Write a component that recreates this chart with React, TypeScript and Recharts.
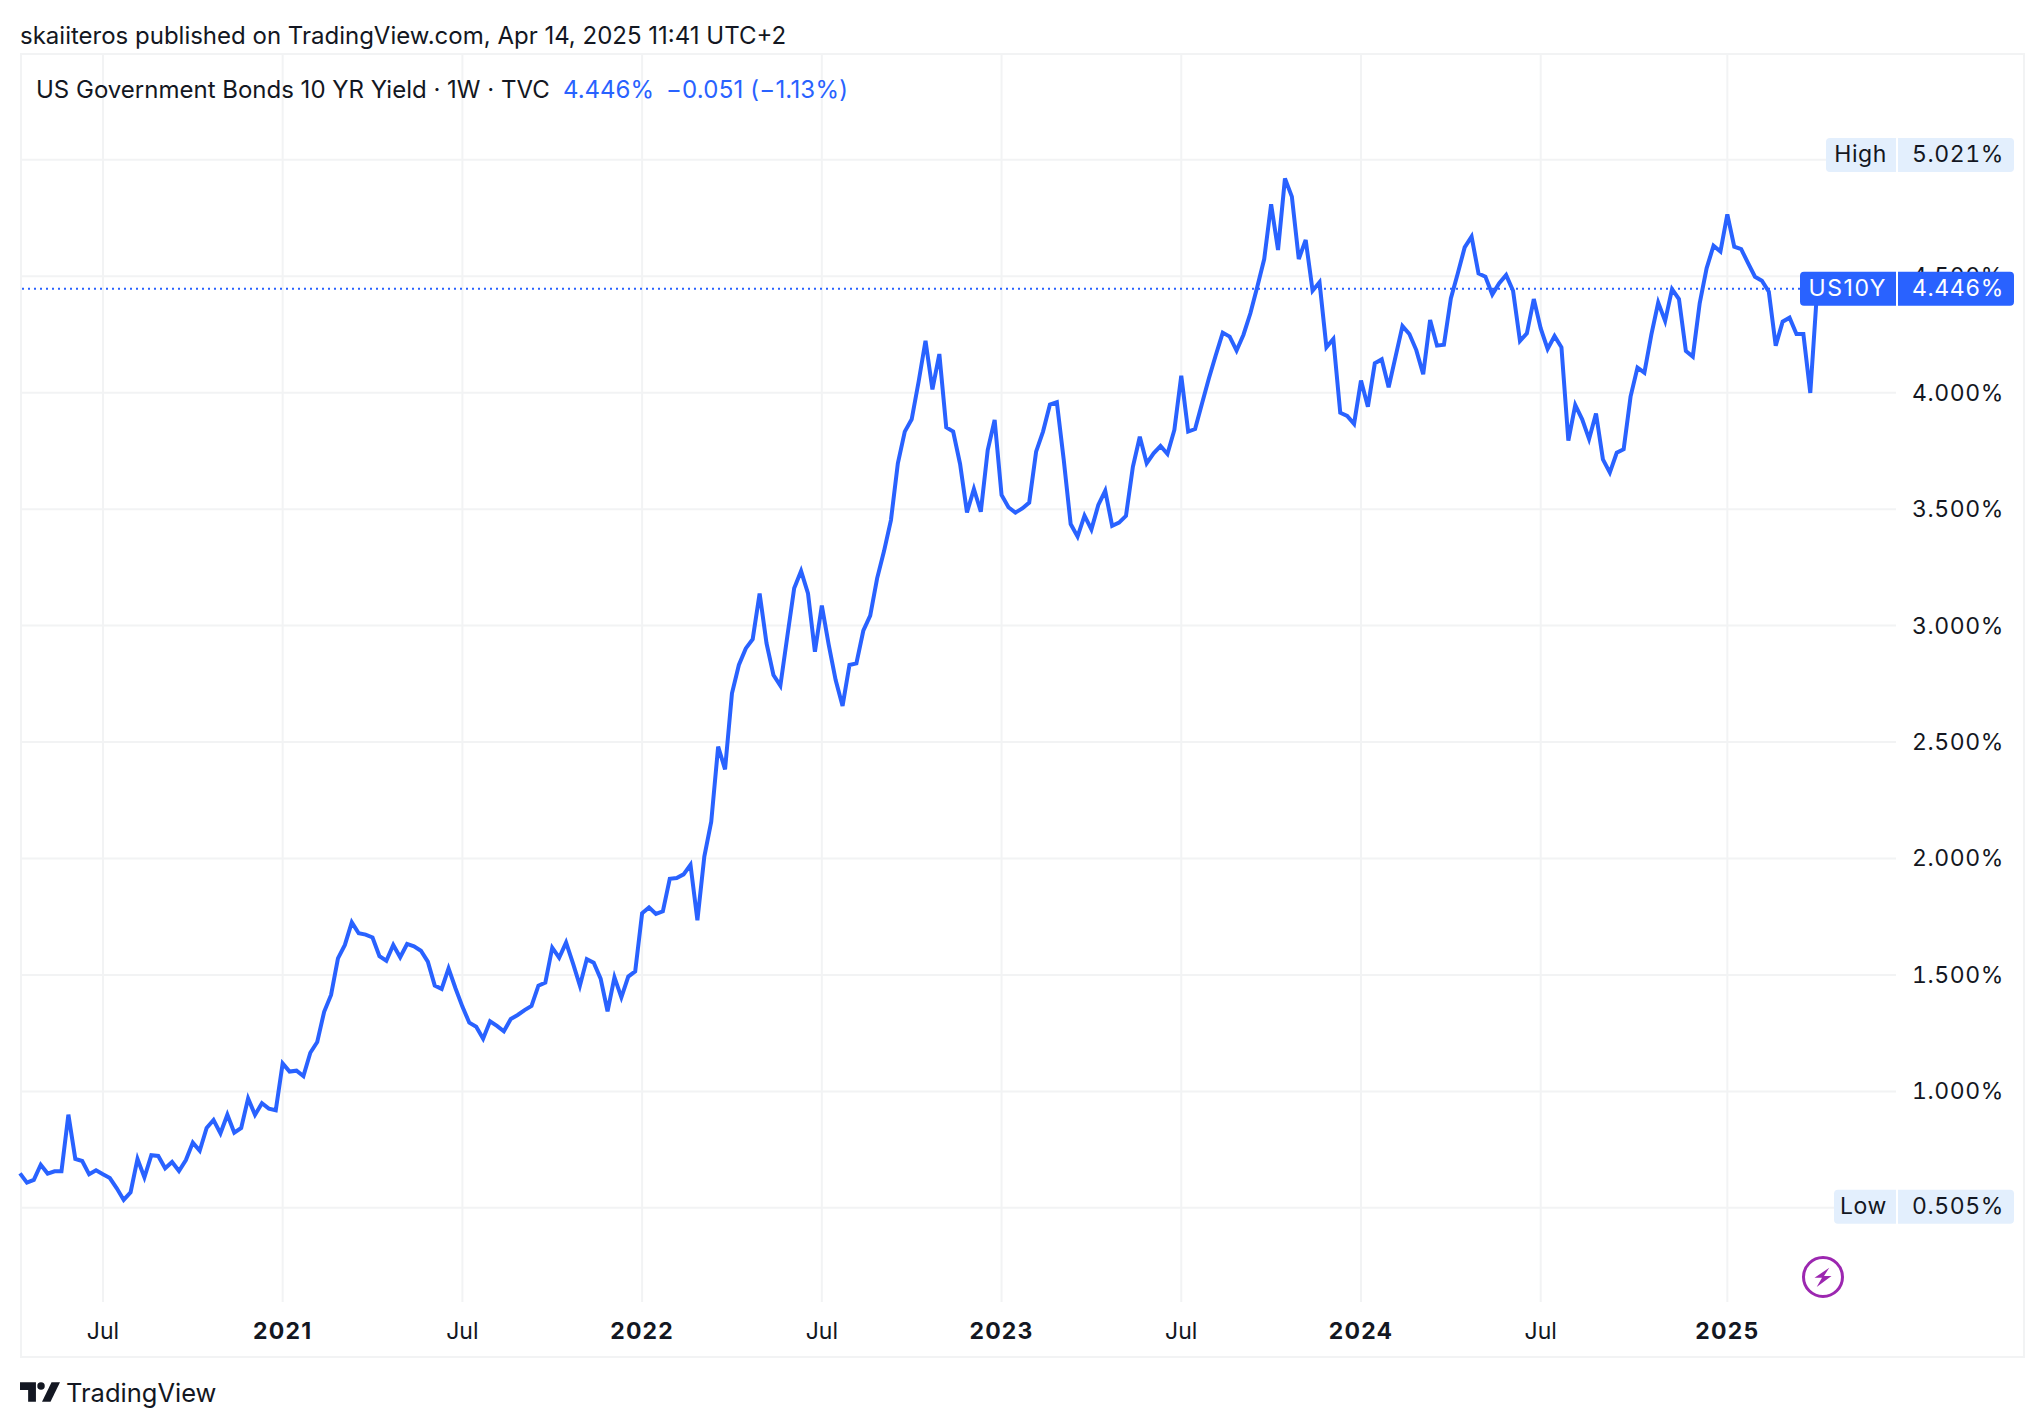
import { CartesianGrid, Line, LineChart, ReferenceDot, ReferenceLine, XAxis, YAxis } from "recharts";

const FONT = "Inter, 'Noto Sans', sans-serif";
const BLUE = "#2962FF";
const INK = "#131722";
const GRID = "#F2F3F4";

// weekly closes
const yields = [
  0.648, 0.608, 0.62, 0.685, 0.647, 0.657, 0.657, 0.9, 0.71, 0.701, 0.644, 0.661, 0.644, 0.628, 0.584, 0.534,
  0.567, 0.71, 0.631, 0.726, 0.723, 0.67, 0.697, 0.658, 0.705, 0.78, 0.745, 0.843, 0.877, 0.82, 0.9, 0.823,
  0.843, 0.97, 0.899, 0.949, 0.926, 0.919, 1.12, 1.085, 1.089, 1.066, 1.166, 1.212, 1.342, 1.414, 1.571, 1.629,
  1.726, 1.679, 1.673, 1.661, 1.581, 1.561, 1.629, 1.576, 1.633, 1.623, 1.604, 1.557, 1.454, 1.44, 1.528, 1.443,
  1.364, 1.295, 1.278, 1.226, 1.301, 1.281, 1.258, 1.311, 1.328, 1.349, 1.367, 1.454, 1.467, 1.617, 1.574, 1.639,
  1.55, 1.454, 1.568, 1.553, 1.484, 1.344, 1.49, 1.404, 1.493, 1.515, 1.765, 1.79, 1.762, 1.773, 1.913, 1.916,
  1.932, 1.973, 1.735, 2.008, 2.158, 2.48, 2.383, 2.709, 2.831, 2.902, 2.942, 3.138, 2.924, 2.788, 2.742, 2.952,
  3.16, 3.234, 3.138, 2.888, 3.086, 2.917, 2.766, 2.655, 2.831, 2.838, 2.978, 3.043, 3.203, 3.32, 3.453, 3.697,
  3.833, 3.886, 4.047, 4.223, 4.014, 4.166, 3.851, 3.833, 3.694, 3.486, 3.587, 3.489, 3.754, 3.883, 3.561, 3.508,
  3.485, 3.503, 3.528, 3.747, 3.833, 3.949, 3.959, 3.711, 3.436, 3.382, 3.472, 3.413, 3.518, 3.579, 3.428, 3.442,
  3.471, 3.682, 3.811, 3.697, 3.74, 3.771, 3.737, 3.84, 4.073, 3.833, 3.844, 3.954, 4.062, 4.162, 4.258, 4.241,
  4.181, 4.249, 4.341, 4.455, 4.574, 4.809, 4.613, 4.92, 4.842, 4.574, 4.656, 4.438, 4.474, 4.195, 4.231, 3.914,
  3.9, 3.866, 4.052, 3.94, 4.126, 4.143, 4.023, 4.155, 4.286, 4.252, 4.183, 4.079, 4.312, 4.202, 4.206, 4.405,
  4.512, 4.624, 4.67, 4.512, 4.498, 4.422, 4.47, 4.505, 4.438, 4.222, 4.255, 4.402, 4.276, 4.188, 4.243, 4.195,
  3.794, 3.947, 3.886, 3.801, 3.911, 3.714, 3.657, 3.742, 3.757, 3.983, 4.108, 4.086, 4.248, 4.387, 4.308, 4.445,
  4.402, 4.179, 4.155, 4.384, 4.534, 4.631, 4.606, 4.766, 4.627, 4.617, 4.556, 4.498, 4.481, 4.434, 4.202, 4.305,
  4.322, 4.252, 4.252, 3.999, 4.446,
];

const xTickWeeks = [12, 38, 64, 90, 116, 142, 168, 194, 220, 247];
const xTickLabels = ["Jul", "2021", "Jul", "2022", "Jul", "2023", "Jul", "2024", "Jul", "2025"];
const priceTicks = [0.5, 1, 1.5, 2, 2.5, 3, 3.5, 4, 4.5, 5];
// these two sit fully under the High and Low tags
const coveredTicks = [0.5, 5];

const lastPrice = 4.446;
const highPrice = 5.021;
const lowPrice = 0.505;

const data = yields.map((v, i) => ({ week: i, v }));
const xEnd = 271.4;

function TimeTick({ x, payload }: any) {
  const label = xTickLabels[xTickWeeks.indexOf(payload.value)];
  const isYear = label !== "Jul";
  return (
    <text
      x={x}
      y={1331}
      dominantBaseline="central"
      textAnchor="middle"
      fontFamily={FONT}
      fontSize={23}
      fontWeight={isYear ? 700 : 400}
      letterSpacing={isYear ? 1.2 : 0}
      fill={INK}
    >
      {label}
    </text>
  );
}

function PriceTick({ y, payload }: any) {
  if (coveredTicks.includes(payload.value)) return <g />;
  return (
    <text
      x={2004}
      y={y}
      dominantBaseline="central"
      textAnchor="end"
      fontFamily={FONT}
      fontSize={23}
      letterSpacing={0.6}
      style={{ fontVariantNumeric: "tabular-nums" }}
      fill={INK}
    >
      {payload.value.toFixed(3)}%
    </text>
  );
}

// two-part price tag on the right edge, cx is the end of the pane
function PriceTag({ cx, cy, name, value, width, bg, fg, nameSpacing = 0.6 }: any) {
  const left = cx - width;
  const r = 4;
  const top = cy - 17;
  const bottom = cy + 17;
  return (
    <g fontFamily={FONT} fontSize={23}>
      <path
        d={`M${cx} ${top}H${left + r}Q${left} ${top} ${left} ${top + r}V${bottom - r}Q${left} ${bottom} ${left + r} ${bottom}H${cx}Z`}
        fill={bg}
      />
      <path
        d={`M${cx + 2} ${top}H${2014 - r}Q2014 ${top} 2014 ${top + r}V${bottom - r}Q2014 ${bottom} ${2014 - r} ${bottom}H${cx + 2}Z`}
        fill={bg}
      />
      <text x={cx - 9} y={cy - 1} dominantBaseline="central" textAnchor="end" letterSpacing={nameSpacing} fill={fg}>
        {name}
      </text>
      <text
        x={2004}
        y={cy - 1}
        dominantBaseline="central"
        textAnchor="end"
        letterSpacing={0.6}
        style={{ fontVariantNumeric: "tabular-nums" }}
        fill={fg}
      >
        {value}
      </text>
    </g>
  );
}

export default function App() {
  return (
    <div style={{ position: "absolute", left: 0, top: 0, width: 2044, height: 1428, background: "#fff", fontFamily: FONT, color: INK }}>
      <div style={{ position: "absolute", left: 20, top: 21, fontSize: 24, lineHeight: "30px", whiteSpace: "nowrap" }}>
        skaiiteros published on TradingView.com, Apr 14, 2025 11:41 UTC+2
      </div>

      <div style={{ position: "absolute", left: 20, top: 53, width: 2001, height: 1301, border: `2px solid ${GRID}` }} />

      <div style={{ position: "absolute", left: 0, top: 0 }}>
        <LineChart width={2044} height={1428} data={data} margin={{ top: 53, right: 20, bottom: 70, left: 20 }}>
          <CartesianGrid stroke={GRID} strokeWidth={2} horizontalValues={priceTicks} verticalValues={xTickWeeks} />
          <XAxis
            dataKey="week"
            type="number"
            domain={[0, xEnd]}
            ticks={xTickWeeks}
            interval={0}
            height={56}
            axisLine={false}
            tickLine={false}
            tick={<TimeTick />}
          />
          <YAxis
            orientation="right"
            domain={[0.0957, 5.4586]}
            ticks={priceTicks}
            interval={0}
            width={128}
            axisLine={false}
            tickLine={false}
            tick={<PriceTick />}
            zIndex={100}
          />
          <ReferenceLine y={lastPrice} stroke={BLUE} strokeWidth={2} strokeDasharray="2 4" />
          <Line
            dataKey="v"
            type="linear"
            stroke={BLUE}
            strokeWidth={4}
            dot={false}
            activeDot={false}
            isAnimationActive={false}
          />
          <ReferenceDot
            x={xEnd}
            y={highPrice}
            ifOverflow="visible"
            zIndex={3000}
            shape={(p: any) => <PriceTag {...p} name="High" value="5.021%" width={70} bg="#E3EFFD" fg={INK} />}
          />
          <ReferenceDot
            x={xEnd}
            y={lastPrice}
            ifOverflow="visible"
            zIndex={3000}
            shape={(p: any) => <PriceTag {...p} name="US10Y" value="4.446%" width={96} bg={BLUE} fg="#fff" nameSpacing={1.6} />}
          />
          <ReferenceDot
            x={xEnd}
            y={lowPrice}
            ifOverflow="visible"
            zIndex={3000}
            shape={(p: any) => <PriceTag {...p} name="Low" value="0.505%" width={62} bg="#E3EFFD" fg={INK} />}
          />
        </LineChart>
      </div>

      <div style={{ position: "absolute", left: 36, top: 75, fontSize: 24, lineHeight: "30px", whiteSpace: "nowrap" }}>
        US Government Bonds 10 YR Yield · 1W · TVC
      </div>
      <div style={{ position: "absolute", left: 563, top: 75, fontSize: 24, lineHeight: "30px", whiteSpace: "nowrap", color: BLUE }}>
        4.446%
      </div>
      <div style={{ position: "absolute", left: 666, top: 75, fontSize: 24, lineHeight: "30px", letterSpacing: 0.2, whiteSpace: "nowrap", color: BLUE }}>
        −0.051 (−1.13%)
      </div>

      <svg style={{ position: "absolute", left: 1801, top: 1255 }} width={44} height={44} viewBox="-22 -22 44 44">
        <circle r={19.5} fill="#fff" stroke="#9C27B0" strokeWidth={3} />
        <polygon points="6.3,-9.3 -8.5,0.8 -1,0.8 -6.3,10 8.5,-1 1,-1" fill="#9C27B0" />
      </svg>

      <svg style={{ position: "absolute", left: 20, top: 1382 }} width={40} height={20} viewBox="0 0 118 58">
        <polygon points="0,0 47,0 47,58 24,58 24,23 0,23" fill={INK} />
        <circle cx={62} cy={11} r={11} fill={INK} />
        <polygon points="118,0 90,58 65,58 93,0" fill={INK} />
      </svg>
      <div style={{ position: "absolute", left: 66, top: 1376, fontSize: 25.5, lineHeight: "34px", whiteSpace: "nowrap" }}>
        TradingView
      </div>
    </div>
  );
}
